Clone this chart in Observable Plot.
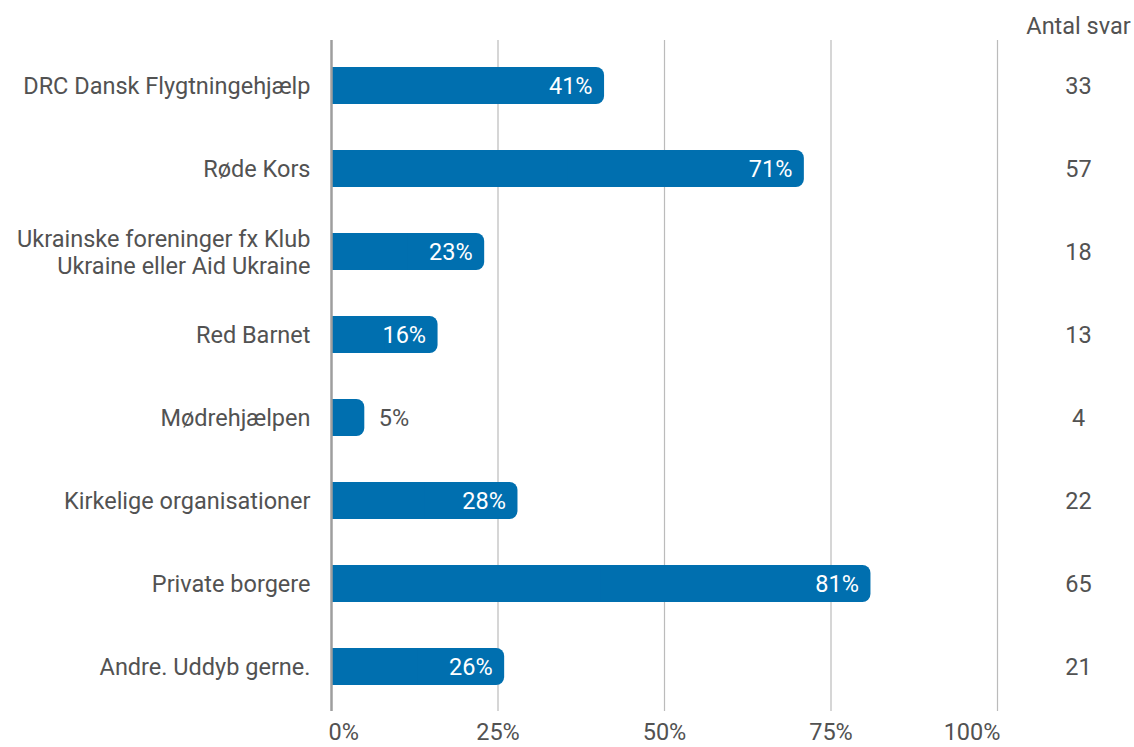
<!DOCTYPE html>
<html>
<head>
<meta charset="utf-8">
<script src="https://cdn.jsdelivr.net/npm/d3@7"></script>
<script src="https://cdn.jsdelivr.net/npm/@observablehq/plot@0.6"></script>
<style>
  html, body { margin: 0; padding: 0; background: #fff; }
  svg { display: block; }
</style>
</head>
<body>
<div id="chart"></div>
<script>
const categories = [
  "DRC Dansk Flygtningehjælp",
  "Røde Kors",
  "Ukrainske foreninger fx Klub\nUkraine eller Aid Ukraine",
  "Red Barnet",
  "Mødrehjælpen",
  "Kirkelige organisationer",
  "Private borgere",
  "Andre. Uddyb gerne."
];
const percents = [41, 71, 23, 16, 5, 28, 81, 26];
const counts = [33, 57, 18, 13, 4, 22, 65, 21];
const xTicks = [0, 25, 50, 75, 100];
const countHeader = "Antal svar";

const data = categories.map((c, i) => ({cat: c, value: percents[i], n: counts[i]}));

const textColor = "#525252";
const barColor = "#006FAF";
const fs = 23.5;

const chart = Plot.plot({
  width: 1134,
  height: 747,
  marginLeft: 331,
  marginRight: 137,
  marginTop: 40,
  marginBottom: 36,
  style: {fontFamily: "Roboto, sans-serif", fontSize: fs + "px", color: textColor, background: "#fff"},
  x: {domain: [0, 100], axis: null},
  y: {domain: categories, paddingInner: 0.56, paddingOuter: 0.28, axis: null},
  marks: [
    Plot.ruleX(xTicks.filter(d => d > 0), {stroke: "#bbbbbb", strokeWidth: 1.2}),
    Plot.barX(data, {y: "cat", x1: 0, x2: "value", fill: barColor, rx: 8}),
    Plot.barX(data, {y: "cat", x1: 0, x2: d => d.value / 2, fill: barColor}),
    Plot.ruleX([0], {stroke: "#9e9e9e", strokeWidth: 2.5}),
    // category labels
    Plot.text(data, {y: "cat", text: "cat", frameAnchor: "left", textAnchor: "end", dx: -21, fill: textColor, fontSize: fs, lineHeight: 1.12}),
    // value labels inside bars
    Plot.text(data.filter(d => d.value >= 10), {y: "cat", x: "value", text: d => d.value + "%", textAnchor: "end", dx: -12, fill: "white", fontSize: fs}),
    // value labels outside small bars
    Plot.text(data.filter(d => d.value < 10), {y: "cat", x: "value", text: d => d.value + "%", textAnchor: "start", dx: 14, fill: textColor, fontSize: fs}),
    // counts column
    Plot.text(data, {y: "cat", text: d => String(d.n), frameAnchor: "right", textAnchor: "middle", dx: 81, fill: textColor, fontSize: fs}),
    Plot.text([countHeader], {text: d => d, frameAnchor: "top-right", dx: 81, dy: -14, textAnchor: "middle", lineAnchor: "middle", fill: textColor, fontSize: fs}),
    // x tick labels
    Plot.text([xTicks[0]], {x: d => d, text: d => d + "%", frameAnchor: "bottom", dy: 21, textAnchor: "start", dx: -3, lineAnchor: "middle", fill: textColor, fontSize: fs}),
    Plot.text(xTicks.slice(1, -1), {x: d => d, text: d => d + "%", frameAnchor: "bottom", dy: 21, textAnchor: "middle", lineAnchor: "middle", fill: textColor, fontSize: fs}),
    Plot.text([xTicks[xTicks.length - 1]], {x: d => d, text: d => d + "%", frameAnchor: "bottom", dy: 21, textAnchor: "end", dx: 3, lineAnchor: "middle", fill: textColor, fontSize: fs})
  ]
});
document.getElementById("chart").appendChild(chart);
</script>
</body>
</html>
